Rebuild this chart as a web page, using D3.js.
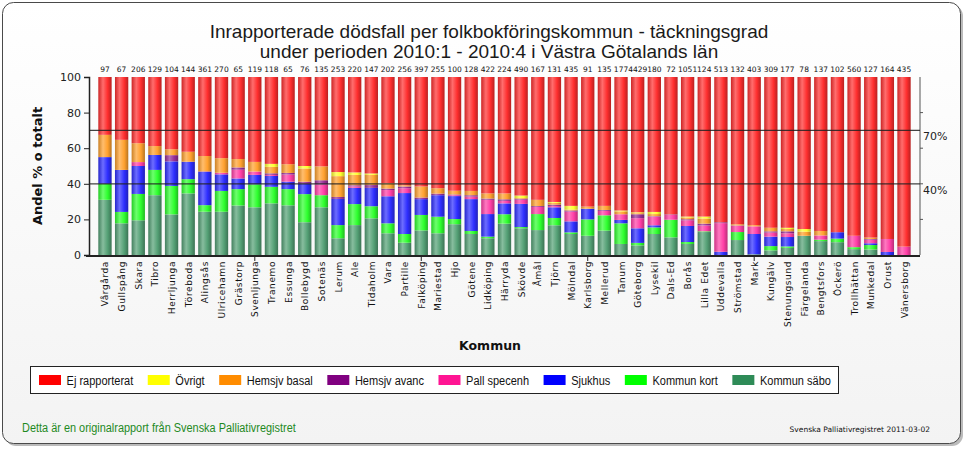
<!DOCTYPE html>
<html><head><meta charset="utf-8">
<script src="https://cdn.jsdelivr.net/npm/d3@7"></script>
<style>
html,body{margin:0;padding:0;background:#fff;}
svg{display:block;}
</style></head>
<body>
<svg id="chart" width="970" height="450"></svg>
<script>
const categories = ["Vårgårda","Gullspång","Skara","Tibro","Herrljunga","Töreboda","Alingsås","Ulricehamn","Grästorp","Svenljunga","Tranemo","Essunga","Bollebygd","Sotenäs","Lerum","Ale","Tidaholm","Vara","Partille","Falköping","Mariestad","Hjo","Götene","Lidköping","Härryda","Skövde","Åmål","Tjörn","Mölndal","Karlsborg","Mellerud","Tanum","Göteborg","Lysekil","Dals-Ed","Borås","Lilla Edet","Uddevalla","Strömstad","Mark","Kungälv","Stenungsund","Färgelanda","Bengtsfors","Öckerö","Trollhättan","Munkedal","Orust","Vänersborg"];
const totals = [97,67,206,129,104,144,361,270,65,119,118,65,76,135,253,220,147,202,256,397,255,100,128,422,224,490,167,131,435,91,135,177,4429,180,72,1051,124,513,132,403,309,177,78,137,102,560,127,164,435];

const kommunSabo   = [31,17.8,19.5,33.6,22.8,34.6,24.3,24.3,27.8,26.8,29,27.9,18.4,26.8,9.4,16.8,20.6,12.2,6.9,13.8,12.2,17.3,11.8,9.4,17.6,15,14,16.7,11.8,10.8,13.7,6.2,5.4,11.8,9.9,6.2,12.9,0,8.4,0.4,2.6,4,10.8,7.8,7.2,3.3,3.1,0,0];
const kommunKort   = [9,6.4,14.8,14.2,16,8,3.7,11.7,9.2,12.9,9.3,9.1,15.8,6.8,7.4,11.8,6.8,5.6,4.9,8.7,9.3,2.9,1.7,0.9,5.3,0.7,9,4.1,0.9,9.2,8.6,11.6,1.4,3.7,9.9,1.1,0.4,0,4.5,0,2.4,0.8,0,0.8,2,1.1,2.5,0,0];
const sjukhus      = [15,23.6,15.7,8.4,13.8,9.8,18.7,9.3,6,5.3,6.1,4.2,5.8,0,14.7,9.1,10.3,15.2,23,8.9,12.1,12.9,17.9,12.7,6.1,13,0,6,6.2,6,0,1.9,8.2,1.2,0,9,0,1.8,0,11.4,5.3,5.3,0,0,3.6,0,1,1.7,0];
const pallSpecenh  = [0,0,2.2,0,0,0,0,0.9,4.9,1.9,0.6,4,0,6,0,0.8,0,3.5,2.7,0,0,0.5,1.4,8,1.4,2.4,4,0.7,5.5,0,2.5,3.2,5.7,4.8,2.7,3.2,3.3,16.1,3.5,4.3,2.3,2.1,0,2.4,0,6.4,2,7.3,4.7];
const hemsjvAvanc  = [0,0,0,0,3.5,0,0.3,0,1.3,0,0.9,0.9,1.2,2.4,1.1,0.7,1.6,0.8,1,0.9,0.9,0.4,0.8,0.7,0.9,0.5,0.5,0.8,0.6,0,0.5,0,2.2,0.3,0.3,0.6,1,0.5,0.2,0,0.7,1.1,0,0,0,0,0.4,0,0];
const hemsjvBasal  = [12.5,16.9,10.6,5,3.3,5.6,8.6,8.2,4.7,5.4,3.6,4.9,7.4,7.8,11.7,5.8,5.7,2.7,0.7,6.2,3,2.1,2.4,2.9,3.3,0.4,3.5,1,0.5,1.2,2.3,1.6,0.6,1.2,0,1,2.9,0,0.7,0.7,2,1.3,2.3,2.5,0,0,0.8,0,0];
const ovrigt       = [0,0,0,0,0,0,0,0,0,0,1.7,0,1.4,0,2.3,1.4,0.8,0.3,0,0,0,0,0,0,0,1.4,0,0.5,2.1,0,0,0.5,0.5,1.2,0,0.5,1.1,0,0,0,0,0.7,1.5,0,0,0,0,0,0];
const ejRapporterat= [32.5,35.3,37.2,38.8,40.6,42,44.4,45.6,46.1,47.7,48.8,49,50,50.2,53.4,53.6,54.2,59.7,60.8,61.5,62.5,63.9,64,65.4,65.4,66.6,69,70.2,72.4,72.8,72.4,75,76,75.8,77.2,78.4,78.4,81.6,82.7,83.2,84.7,84.7,85.4,86.5,87.2,89.2,90.2,91,95.3];

const seriesNames  = ["Kommun säbo","Kommun kort","Sjukhus","Pall specenh","Hemsjv avanc","Hemsjv basal","Övrigt","Ej rapporterat"];
const seriesValues = [kommunSabo,kommunKort,sjukhus,pallSpecenh,hemsjvAvanc,hemsjvBasal,ovrigt,ejRapporterat];
const seriesColors = ["#2e8b57","#00ff00","#0000ff","#ff1493","#800080","#ff8c00","#ffff00","#ff0000"];
const legendOrder  = ["Ej rapporterat","Övrigt","Hemsjv basal","Hemsjv avanc","Pall specenh","Sjukhus","Kommun kort","Kommun säbo"];
const yTicks = [0,20,40,60,80,100];
const refLines = [70,40];

const titleLines = ["Inrapporterade dödsfall per folkbokföringskommun - täckningsgrad","under perioden 2010:1 - 2010:4 i Västra Götalands län"];

const svg = d3.select("#chart");
const defs = svg.append("defs");
const SANS = "'Liberation Sans',Arial,sans-serif";
const VERD = "'DejaVu Sans',Verdana,sans-serif";

function squeeze(sel, f){
  sel.each(function(){
    const w = this.getComputedTextLength();
    d3.select(this).attr("textLength", w*f).attr("lengthAdjust","spacingAndGlyphs");
  });
}

// frame
const bgGrad = defs.append("linearGradient").attr("id","bg").attr("x1",0).attr("y1",0).attr("x2",0).attr("y2",1);
bgGrad.append("stop").attr("offset","0%").attr("stop-color","#ffffff");
bgGrad.append("stop").attr("offset","100%").attr("stop-color","#f3f3f3");
svg.append("rect").attr("x",5).attr("y",5).attr("width",958).attr("height",441).attr("rx",11).attr("fill","#bbb");
svg.append("rect").attr("x",2.5).attr("y",2.5).attr("width",958).attr("height",441).attr("rx",11).attr("fill","url(#bg)").attr("stroke","#4a4a4a").attr("stroke-width",1);

// title
svg.append("g").selectAll("text").data(titleLines).join("text")
  .attr("x",489).attr("y",(d,i)=>38+i*19.5).attr("text-anchor","middle")
  .attr("font-family",SANS).attr("font-size",19).attr("fill","#1a1a1a").text(d=>d);

const x = d3.scaleBand().domain(categories).range([90,919]).paddingInner(0.2).paddingOuter(0.5);
const y = d3.scaleLinear().domain([0,100]).range([255,77]);

// gradients for bars
seriesColors.forEach((c,i)=>{
  const g = defs.append("linearGradient").attr("id","g"+i).attr("x1",0).attr("x2",1).attr("y1",0).attr("y2",0);
  const base = d3.interpolateRgb(c,"#ffffff")(0.18);
  g.append("stop").attr("offset","0%").attr("stop-color",d3.interpolateRgb(base,"#000")(0.2));
  g.append("stop").attr("offset","35%").attr("stop-color",d3.interpolateRgb(base,"#fff")(0.3));
  g.append("stop").attr("offset","70%").attr("stop-color",base);
  g.append("stop").attr("offset","100%").attr("stop-color",d3.interpolateRgb(base,"#000")(0.28));
});

// stack
const table = categories.map((c,i)=>{
  const o = {cat:c};
  seriesNames.forEach((s,j)=>o[s]=seriesValues[j][i]);
  return o;
});
const stacked = d3.stack().keys(seriesNames)(table);

// right axis line
svg.append("line").attr("x1",920).attr("x2",920).attr("y1",y(100)).attr("y2",y(0)).attr("stroke","#555").attr("stroke-width",1);
svg.append("g").selectAll("line").data(yTicks.slice(1,-1)).join("line")
  .attr("x1",920).attr("x2",923).attr("y1",d=>y(d)).attr("y2",d=>y(d)).attr("stroke","#555");

const barsG = svg.append("g");
stacked.forEach((layer,j)=>{
  barsG.append("g").selectAll("rect").data(layer.filter(d=>d[1]-d[0]>0)).join("rect")
    .attr("x",d=>x(d.data.cat)).attr("width",x.bandwidth())
    .attr("y",d=>y(d[1])).attr("height",d=>y(d[0])-y(d[1]))
    .attr("fill","url(#g"+j+")");
});

// reference lines
svg.append("g").selectAll("line").data(refLines).join("line")
  .attr("x1",89).attr("x2",920).attr("y1",d=>y(d)).attr("y2",d=>y(d))
  .attr("stroke","#222").attr("stroke-width",1.3).attr("opacity",0.85);
svg.append("g").selectAll("text").data(refLines).join("text")
  .attr("x",923).attr("y",d=>y(d)+10).attr("font-family",VERD).attr("font-size",11).attr("fill","#222")
  .text(d=>d+"%");

// y axis
const yAxis = svg.append("g").attr("transform","translate(89,0)")
  .call(d3.axisLeft(y).tickValues(yTicks).tickSize(5).tickPadding(3));
yAxis.select(".domain").attr("stroke","#222").attr("stroke-width",1.5);
yAxis.selectAll(".tick line").attr("stroke","#222");
yAxis.selectAll("text").attr("font-family",VERD).attr("font-size",11).attr("fill","#222");

// x axis
svg.append("line").attr("x1",86).attr("x2",920).attr("y1",256).attr("y2",256).attr("stroke","#222").attr("stroke-width",2);
const tickCats = categories.filter((c,i)=>i%10===9);
svg.append("g").selectAll("line").data(tickCats).join("line")
  .attr("x1",d=>x(d)+x.bandwidth()/2).attr("x2",d=>x(d)+x.bandwidth()/2).attr("y1",256).attr("y2",261).attr("stroke","#222");
svg.append("g").selectAll("text").data(categories).join("text")
  .attr("transform",d=>`translate(${x(d)+x.bandwidth()/2+3.5},261) rotate(-90)`)
  .attr("text-anchor","end").attr("font-family",VERD).attr("font-size",9).attr("fill","#111")
  .attr("letter-spacing",0.6).text(d=>d);

// counts
svg.append("g").selectAll("text").data(categories).join("text")
  .attr("x",d=>x(d)+x.bandwidth()/2).attr("y",72).attr("text-anchor","middle")
  .attr("font-family",VERD).attr("font-size",7.5).attr("fill","#111")
  .text((d,i)=>totals[i]);

// axis titles
svg.append("text").attr("transform","translate(42,166) rotate(-90)").attr("text-anchor","middle")
  .attr("font-family",VERD).attr("font-weight","bold").attr("font-size",13).attr("fill","#111").text("Andel % o totalt");
svg.append("text").attr("x",490).attr("y",350).attr("text-anchor","middle")
  .attr("font-family",VERD).attr("font-weight","bold").attr("font-size",12.5).attr("fill","#111").text("Kommun");

// legend
const lg = svg.append("g");
lg.append("rect").attr("x",30.5).attr("y",366.5).attr("width",808).attr("height",27).attr("fill","#fff").attr("stroke","#222");
let lx = 39;
legendOrder.forEach(name=>{
  const j = seriesNames.indexOf(name);
  lg.append("rect").attr("x",lx).attr("y",375).attr("width",22).attr("height",10).attr("fill",seriesColors[j]);
  const t = lg.append("text").attr("x",lx+27.6).attr("y",384.5).attr("font-family",SANS).attr("font-size",12.5).attr("fill","#111").text(name);
  squeeze(t, 0.88);
  lx = lx + 27.6 + (+t.attr("textLength")) + 14.5;
});

// footer
const ft = svg.append("text").attr("x",22).attr("y",432).attr("font-family",SANS).attr("font-size",12).attr("fill","#1f8a1f")
  .text("Detta är en originalrapport från Svenska Palliativregistret");
squeeze(ft, 0.91);
svg.append("text").attr("x",930).attr("y",432).attr("text-anchor","end").attr("font-family",VERD).attr("font-size",7.5).attr("fill","#111")
  .text("Svenska Palliativregistret 2011-03-02");
</script>
</body></html>
